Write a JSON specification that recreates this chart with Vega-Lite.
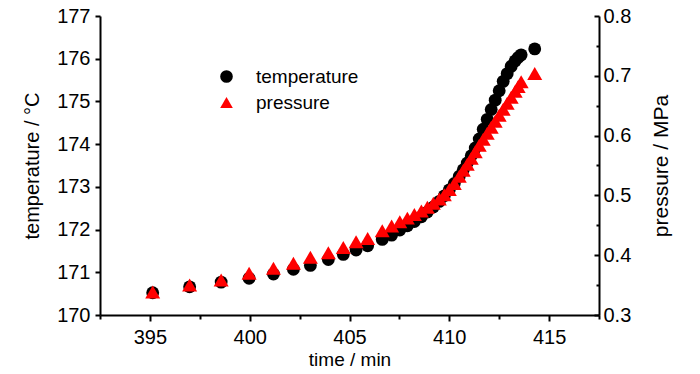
{
  "$schema": "https://vega.github.io/schema/vega-lite/v6.json",
  "width": 499,
  "height": 299,
  "autosize": {"type": "none"},
  "padding": {"left": 100, "top": 16, "right": 101, "bottom": 59},
  "background": "white",
  "config": {
    "view": {"stroke": null},
    "font": "Liberation Sans",
    "axis": {
      "grid": false,
      "domainColor": "#000000",
      "domainWidth": 2,
      "tickColor": "#000000",
      "tickWidth": 2,
      "labelColor": "#000000",
      "titleColor": "#000000",
      "labelFont": "Liberation Sans",
      "titleFont": "Liberation Sans",
      "labelFontSize": 20,
      "titleFontSize": 19,
      "titleFontWeight": "normal",
      "labelOverlap": false,
      "labelFlush": false
    },
    "legend": {
      "labelFont": "Liberation Sans",
      "labelFontSize": 19,
      "labelColor": "#000000"
    }
  },
  "data": {
    "values": [
      {"t": 395.14, "T": 170.52, "P": 0.3385},
      {"t": 396.99, "T": 170.66, "P": 0.350},
      {"t": 398.57, "T": 170.77, "P": 0.3585},
      {"t": 399.97, "T": 170.86, "P": 0.370},
      {"t": 401.19, "T": 170.96, "P": 0.378},
      {"t": 402.19, "T": 171.07, "P": 0.3865},
      {"t": 403.04, "T": 171.16, "P": 0.3965},
      {"t": 403.94, "T": 171.30, "P": 0.404},
      {"t": 404.69, "T": 171.42, "P": 0.413},
      {"t": 405.33, "T": 171.52, "P": 0.4226},
      {"t": 405.91, "T": 171.62, "P": 0.428},
      {"t": 406.64, "T": 171.77, "P": 0.441},
      {"t": 407.11, "T": 171.87, "P": 0.449},
      {"t": 407.52, "T": 171.99, "P": 0.456},
      {"t": 407.9, "T": 172.09, "P": 0.462},
      {"t": 408.25, "T": 172.19, "P": 0.468},
      {"t": 408.6, "T": 172.30, "P": 0.474},
      {"t": 408.9, "T": 172.41, "P": 0.480},
      {"t": 409.2, "T": 172.53, "P": 0.487},
      {"t": 409.5, "T": 172.66, "P": 0.494},
      {"t": 409.75, "T": 172.79, "P": 0.501},
      {"t": 410.0, "T": 172.93, "P": 0.510},
      {"t": 410.25, "T": 173.08, "P": 0.520},
      {"t": 410.5, "T": 173.25, "P": 0.532},
      {"t": 410.7, "T": 173.40, "P": 0.542},
      {"t": 410.9, "T": 173.56, "P": 0.552},
      {"t": 411.1, "T": 173.73, "P": 0.562},
      {"t": 411.3, "T": 173.91, "P": 0.573},
      {"t": 411.5, "T": 174.12, "P": 0.584},
      {"t": 411.7, "T": 174.35, "P": 0.594},
      {"t": 411.9, "T": 174.58, "P": 0.604},
      {"t": 412.1, "T": 174.81, "P": 0.614},
      {"t": 412.3, "T": 175.03, "P": 0.624},
      {"t": 412.5, "T": 175.25, "P": 0.634},
      {"t": 412.7, "T": 175.47, "P": 0.644},
      {"t": 412.9, "T": 175.65, "P": 0.654},
      {"t": 413.1, "T": 175.82, "P": 0.664},
      {"t": 413.3, "T": 175.95, "P": 0.674},
      {"t": 413.45, "T": 176.03, "P": 0.682},
      {"t": 413.6, "T": 176.09, "P": 0.690},
      {"t": 414.28, "T": 176.23, "P": 0.704}
    ]
  },
  "layer": [
    {
      "mark": {"type": "point", "filled": true, "size": 165, "opacity": 1, "strokeWidth": 0},
      "encoding": {
        "x": {
          "field": "t",
          "type": "quantitative",
          "scale": {"domain": [392.5, 417.5], "nice": false, "zero": false},
          "axis": {
            "title": "time / min",
            "values": [392.5, 395, 397.5, 400, 402.5, 405, 407.5, 410, 412.5, 415, 417.5],
            "format": "d",
            "labelExpr": "datum.value % 5 === 0 ? datum.label : ''",
            "tickSize": {"condition": {"test": "datum.value % 5 === 0", "value": 6}, "value": 4},
            "labelPadding": 6,
            "titlePadding": 3
          }
        },
        "y": {
          "field": "T",
          "type": "quantitative",
          "scale": {"domain": [170, 177], "nice": false, "zero": false},
          "axis": {
            "title": "temperature / °C",
            "titleFontSize": 20,
            "values": [170, 170.5, 171, 171.5, 172, 172.5, 173, 173.5, 174, 174.5, 175, 175.5, 176, 176.5, 177],
            "format": "d",
            "labelExpr": "datum.value % 1 === 0 ? datum.label : ''",
            "tickSize": {"condition": {"test": "datum.value % 1 === 0", "value": 5}, "value": 3},
            "labelPadding": 5,
            "titlePadding": 14
          }
        },
        "color": {
          "datum": "temperature",
          "type": "nominal",
          "scale": {"domain": ["temperature", "pressure"], "range": ["#000000", "#ff0000"]},
          "legend": {
            "title": null,
            "orient": "none",
            "legendX": 117,
            "legendY": 51,
            "padding": 0,
            "symbolSize": 160,
            "symbolStrokeWidth": 0,
            "labelOffset": 20,
            "rowPadding": 6
          }
        },
        "shape": {
          "datum": "temperature",
          "type": "nominal",
          "scale": {"domain": ["temperature", "pressure"], "range": ["circle", "triangle-up"]},
          "legend": {
            "title": null,
            "orient": "none",
            "legendX": 117,
            "legendY": 51,
            "padding": 0,
            "symbolSize": 160,
            "symbolStrokeWidth": 0,
            "labelOffset": 20,
            "rowPadding": 6
          }
        }
      }
    },
    {
      "mark": {"type": "point", "filled": true, "size": 225, "opacity": 1, "strokeWidth": 0},
      "encoding": {
        "x": {"field": "t", "type": "quantitative"},
        "y": {
          "field": "P",
          "type": "quantitative",
          "scale": {"domain": [0.3, 0.8], "nice": false, "zero": false},
          "axis": {
            "orient": "right",
            "title": "pressure / MPa",
            "titleFontSize": 21,
            "titleAngle": -90,
            "titleBaseline": "top",
            "values": [0.3, 0.35, 0.4, 0.45, 0.5, 0.55, 0.6, 0.65, 0.7, 0.75, 0.8],
            "format": ".1f",
            "labelExpr": "round(datum.value * 100) % 10 === 0 ? datum.label : ''",
            "tickSize": {"condition": {"test": "round(datum.value * 100) % 10 === 0", "value": -5}, "value": -3},
            "labelPadding": 9,
            "titlePadding": 20
          }
        },
        "color": {"datum": "pressure", "type": "nominal"},
        "shape": {"datum": "pressure", "type": "nominal"}
      }
    }
  ],
  "resolve": {"scale": {"y": "independent"}}
}
